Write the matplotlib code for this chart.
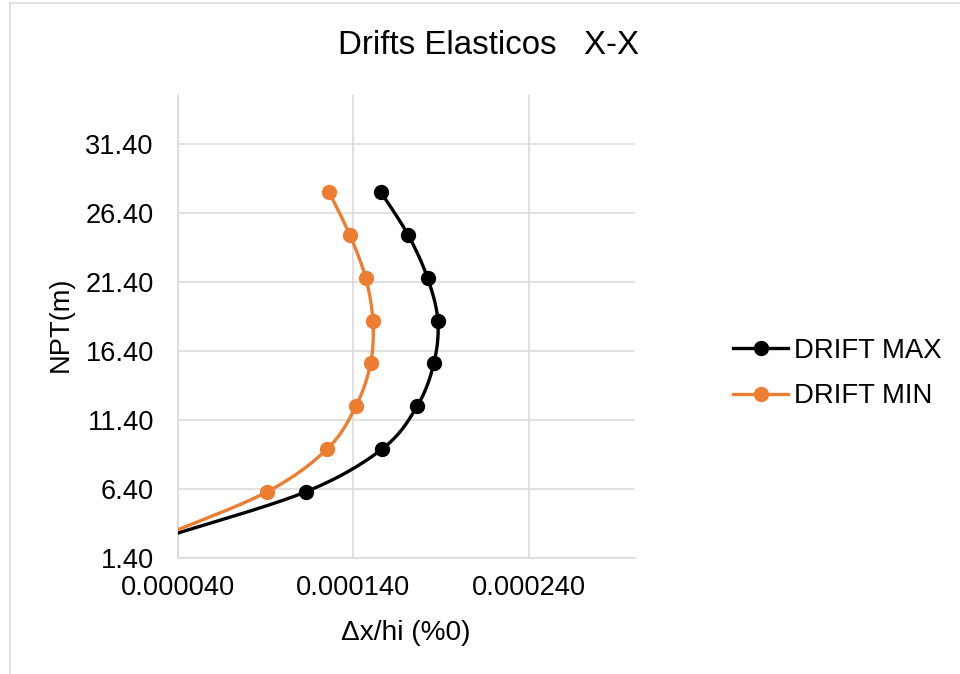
import numpy as np
import matplotlib
matplotlib.use("Agg")
import matplotlib.pyplot as plt
from matplotlib.lines import Line2D

plt.rcParams['font.family'] = ['Liberation Sans', 'DejaVu Sans']

# Story levels (m) and elastic drifts per level
heights = [3.1, 6.2, 9.3, 12.4, 15.5, 18.6, 21.7, 24.8, 27.9]
drift_max = [0.0000375, 0.0001131, 0.0001565, 0.0001764, 0.0001859,
             0.0001882, 0.0001823, 0.0001713, 0.0001558]
drift_min = [0.0000335, 0.0000911, 0.0001252, 0.0001415, 0.0001499,
             0.0001512, 0.0001471, 0.0001381, 0.0001263]

y_ticks = [1.4, 6.4, 11.4, 16.4, 21.4, 26.4, 31.4]
x_ticks = [0.00004, 0.00014, 0.00024]
x_range = (0.00004, 0.0003004)
y_range = (1.4, 34.95)

series_names = ["DRIFT MAX", "DRIFT MIN"]
series_colors = ["#000000", "#ED7D31"]


def smooth(xs, ys, n=40):
    """Cubic Bezier smoothing through every point (Catmull-Rom style)."""
    p = np.column_stack([xs, ys]).astype(float)
    ext = np.vstack([p[0], p, p[-1]])
    out = []
    t = np.linspace(0, 1, n)[:, None]
    for i in range(len(p) - 1):
        p0, p1, p2, p3 = ext[i], ext[i + 1], ext[i + 2], ext[i + 3]
        c1 = p1 + (p2 - p0) / 6.0
        c2 = p2 - (p3 - p1) / 6.0
        seg = ((1 - t) ** 3) * p1 + 3 * ((1 - t) ** 2) * t * c1 \
            + 3 * (1 - t) * t ** 2 * c2 + t ** 3 * p2
        out.append(seg if i == 0 else seg[1:])
    c = np.vstack(out)
    return c[:, 0], c[:, 1]


fig = plt.figure(figsize=(9.6, 6.74), dpi=100)
W, H = 960, 674
ax = fig.add_axes([177.5 / W, 1 - 558 / H, (635 - 177.5) / W, (558 - 95) / H])

grid_c = "#d9d9d9"
for xv in x_ticks:
    ax.axvline(xv, color=grid_c, lw=1.1, zorder=0)
for yv in y_ticks:
    ax.axhline(yv, color=grid_c, lw=1.1, zorder=0)

handles = []
for vals, col, name in zip([drift_max, drift_min], series_colors, series_names):
    sx, sy = smooth(vals, heights)
    ax.plot(sx, sy, color=col, lw=2.4, solid_capstyle='round', zorder=3)
    inside = [(v, h) for v, h in zip(vals, heights) if v >= x_range[0]]
    ax.plot([v for v, _ in inside], [h for _, h in inside], 'o', color=col,
            ms=10, zorder=4)
    handles.append(Line2D([], [], color=col, lw=2.4, marker='o', ms=10))

ax.set_xlim(*x_range)
ax.set_ylim(*y_range)
ax.set_xticks(x_ticks)
ax.set_xticklabels([f"{v:.6f}" for v in x_ticks])
ax.set_yticks(y_ticks)
ax.set_yticklabels([f"{v:.2f}" for v in y_ticks])
ax.tick_params(axis='both', length=0, labelsize=19.6, colors='#000000')
ax.tick_params(axis='x', pad=12.5)
ax.tick_params(axis='y', pad=17)
for s in ['top', 'right']:
    ax.spines[s].set_visible(False)
for s in ['left', 'bottom']:
    ax.spines[s].set_color(grid_c)
    ax.spines[s].set_linewidth(1.1)

fig.text(406 / W, 1 - 633 / H, "\u0394x/hi (%0)", ha='center', va='center', fontsize=20.2)
fig.text(61 / W, 1 - 324 / H, "NPT(m)", ha='center', va='center', rotation=90, fontsize=19.6)
fig.text(489 / W, 1 - 54 / H, "Drifts Elasticos   X-X", ha='center', va='baseline',
         fontsize=23.8)

fig.legend(handles, series_names, loc='center left',
           bbox_to_anchor=(733 / W, 1 - 373.5 / H), frameon=False, fontsize=19.8,
           handlelength=2.0, handletextpad=0.2, labelspacing=0.7,
           borderpad=0, borderaxespad=0)

# outer chart frame (left and top edges)
fig.add_artist(Line2D([9.5 / W, 9.5 / W], [0, 1 - 2.5 / H], color=grid_c, lw=1.1))
fig.add_artist(Line2D([9.5 / W, 1], [1 - 2.5 / H, 1 - 2.5 / H], color=grid_c, lw=1.1))

fig.savefig("out.png", dpi=100)
